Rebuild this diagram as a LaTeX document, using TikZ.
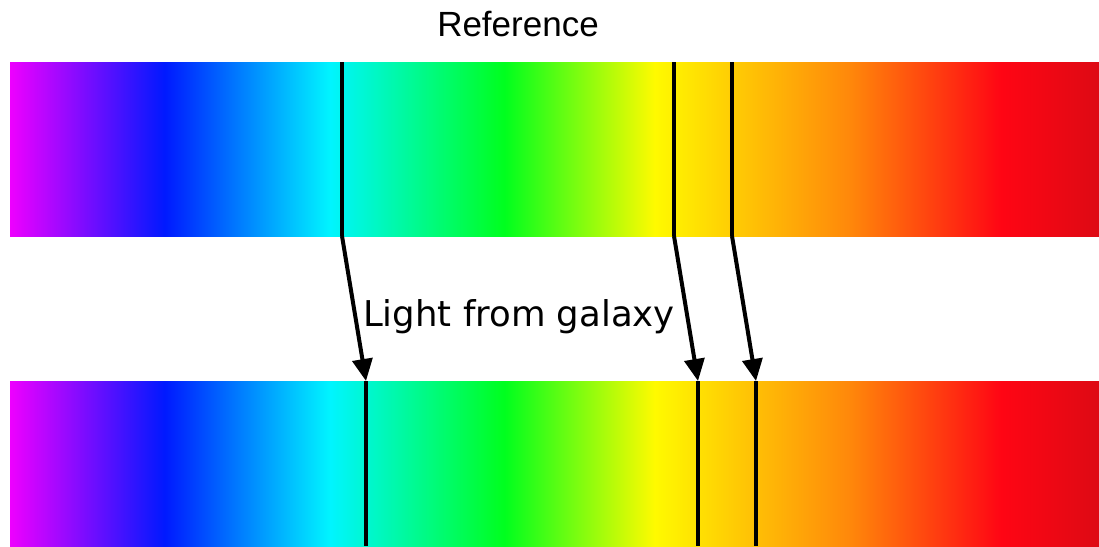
\documentclass[tikz,border=0pt]{standalone}
\usepackage{fontspec}
\setmainfont{Liberation Sans}
\newfontfamily\djv{DejaVu Sans}
\usetikzlibrary{arrows.meta}
\definecolor{smag}{RGB}{238,0,255}
\definecolor{sblu}{RGB}{0,25,255}
\definecolor{scya}{RGB}{0,245,255}
\definecolor{sgrn}{RGB}{0,255,30}
\definecolor{syel}{RGB}{255,250,0}
\definecolor{sora}{RGB}{255,135,10}
\definecolor{sred}{RGB}{255,5,20}
\definecolor{sdrd}{RGB}{222,10,20}
\pgfdeclarehorizontalshading{spectrum}{100bp}{color(0bp)=(smag); color(25bp)=(smag); color(32.1bp)=(sblu); color(39.7bp)=(scya); color(47.7bp)=(sgrn); color(54.6bp)=(syel); color(63.6bp)=(sora); color(70.5bp)=(sred); color(75bp)=(sdrd); color(100bp)=(sdrd)}
\tikzset{
  band/.style={shading=spectrum},
  absline/.style={line width=4pt, black},
  shift arrow/.style={line width=4pt, black, -{Triangle[width=20pt,length=22pt]}, shorten <=0pt},
  lbl/.style={inner sep=0pt, anchor=base, text=black}
}
\begin{document}
\begin{tikzpicture}[x=1pt,y=-1pt]
\useasboundingbox (0,0) rectangle (1099,546);
% bands
\path[band] (10,62) rectangle (1099,236);
\path[band] (10,381) rectangle (1099,546);
% top absorption lines
\coordinate (t1a) at (342,62); \coordinate (t1b) at (342,236);
\coordinate (t2a) at (674,62); \coordinate (t2b) at (674,236);
\coordinate (t3a) at (732,62); \coordinate (t3b) at (732,236);
% bottom absorption lines
\coordinate (b1a) at (366,381); \coordinate (b1b) at (366,546);
\coordinate (b2a) at (698,381); \coordinate (b2b) at (698,546);
\coordinate (b3a) at (756,381); \coordinate (b3b) at (756,546);
\draw[absline] (t1a) -- (t1b);
\draw[absline] (t2a) -- (t2b);
\draw[absline] (t3a) -- (t3b);
\draw[absline] (b1a) -- (b1b);
\draw[absline] (b2a) -- (b2b);
\draw[absline] (b3a) -- (b3b);
% shift arrows
\draw[shift arrow] (t1b) -- (b1a);
\draw[shift arrow] (t2b) -- (b2a);
\draw[shift arrow] (t3b) -- (b3a);
% labels
\node[lbl, font=\fontsize{35}{40}\selectfont] (ref) at (518,36) {Reference};
\node[lbl, font=\djv\fontsize{35.5}{40}\selectfont] (gal) at (519,326) {Light from galaxy};
\end{tikzpicture}
\end{document}
